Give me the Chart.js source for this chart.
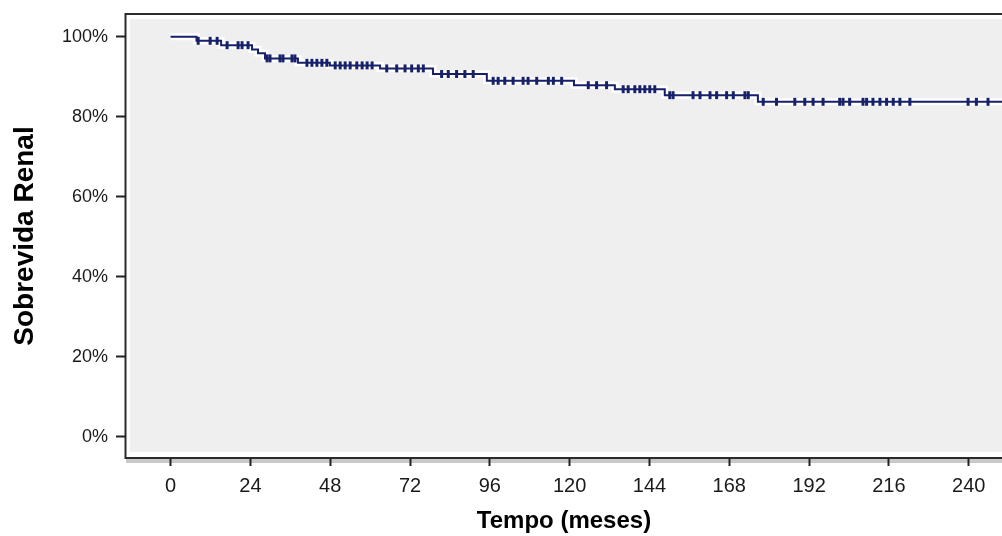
<!DOCTYPE html>
<html>
<head>
<meta charset="utf-8">
<script src="https://cdn.jsdelivr.net/npm/chart.js@4.4.1/dist/chart.umd.min.js"></script>
<style>
  html, body { margin: 0; padding: 0; background: #fff; overflow: hidden; }
  #wrap { width: 1009px; height: 536px; position: relative; }
</style>
</head>
<body>
<div id="wrap"><canvas id="chart"></canvas></div>
<script>
// Kaplan-Meier: tempos dos eventos (meses) e sobrevida (%) logo após cada um
const eventMonths = [0, 7.8, 15.2, 24.5, 26.3, 28.4, 38.3, 47.9, 63.0, 78.9, 95.1, 121.3, 133.6, 148.6, 176.6, 250];
const survival    = [100, 99.0, 97.9, 96.85, 95.9, 94.6, 93.5, 92.85, 92.1, 90.7, 89.0, 87.9, 86.9, 85.4, 83.75, 83.75];

// tempos censurados (marcas verticais)
const censorMonths = [8.3, 11.9, 14, 17, 20.3, 21.5, 23.3, 29, 29.9, 32.9, 33.8, 36.5, 37.4, 41, 42.5, 44, 45.5, 47,
  49.5, 51, 52.5, 54, 56, 57.6, 59.1, 60.6, 65, 68, 70.5, 72.5, 74.5, 76, 81.5, 83.5, 86, 88.5, 91, 97, 98.5, 100.5,
  103, 106, 107.5, 110.1, 113.6, 115.1, 117.6, 125.6, 128.1, 131.1, 136.1, 137.6, 139.6, 141.1, 142.6, 144.1, 145.6,
  150.1, 151.1, 157.1, 159.2, 162.2, 164.2, 167.2, 169.2, 172.7, 173.7, 178.2, 182.2, 187.7, 190.7, 193.2, 196.2,
  201.2, 202.2, 204.2, 208.2, 209.3, 211.2, 213.3, 215.3, 217.3, 219.3, 222.3, 239.8, 242.3, 245.8];

const xTicks = [0, 24, 48, 72, 96, 120, 144, 168, 192, 216, 240];
const yTicks = [0, 20, 40, 60, 80, 100];

const FONT = "'Liberation Sans', Arial, sans-serif";
const NAVY = '#17216a';

function survivalAt(t) {
    let s = survival[0];
    for (let i = 0; i < eventMonths.length; i++) {
        if (eventMonths[i] <= t) s = survival[i];
    }
    return s;
}

const curvePoints = eventMonths.map((m, i) => ({ x: m, y: survival[i] }));
const censorPoints = censorMonths.map(m => ({ x: m, y: survivalAt(m) }));

// fundo cinza e moldura do gráfico
const framePlugin = {
    id: 'frame',
    beforeDraw(chart) {
        const { ctx, chartArea: a } = chart;
        ctx.save();
        ctx.fillStyle = '#efefef';
        ctx.fillRect(a.left + 4, a.top + 5, a.right - a.left - 4, a.bottom - a.top - 11);
        ctx.fillStyle = '#c9c9c9';
        ctx.fillRect(a.left, a.bottom + 1, a.right - a.left, 4);
        ctx.strokeStyle = '#2b2b2b';
        ctx.lineWidth = 2;
        ctx.beginPath();
        ctx.moveTo(a.right, a.top);
        ctx.lineTo(a.left - 0.5, a.top);
        ctx.lineTo(a.left - 0.5, a.bottom);
        ctx.lineTo(a.right, a.bottom);
        ctx.stroke();
        ctx.restore();
    }
};

new Chart(document.getElementById('chart'), {
    type: 'line',
    data: {
        datasets: [
            {
                data: censorPoints,
                showLine: false,
                pointStyle: 'line',
                rotation: 90,
                pointRadius: 4,
                pointBorderWidth: 3,
                pointBorderColor: NAVY,
                order: 0
            },
            {
                data: curvePoints,
                stepped: true,
                borderColor: NAVY,
                borderWidth: 2,
                pointRadius: 0,
                order: 1
            },
            {
                data: curvePoints,
                stepped: true,
                borderColor: '#ffffff',
                borderWidth: 7,
                pointRadius: 0,
                order: 2
            },
            {
                data: censorPoints,
                showLine: false,
                pointStyle: 'circle',
                pointRadius: 4.5,
                pointBorderWidth: 0,
                pointBackgroundColor: '#ffffff',
                order: 3
            }
        ]
    },
    options: {
        responsive: true,
        maintainAspectRatio: false,
        animation: false,
        layout: { padding: { left: 8, top: 14, right: 0, bottom: 0 } },
        plugins: {
            legend: { display: false },
            tooltip: { enabled: false }
        },
        scales: {
            x: {
                type: 'linear',
                min: -13.4,
                max: 250,
                afterBuildTicks: s => { s.ticks = xTicks.map(v => ({ value: v })); },
                afterFit: s => { s.height = 78; },
                grid: {
                    drawOnChartArea: false,
                    drawTicks: true,
                    tickLength: 8,
                    tickWidth: 2,
                    tickColor: '#222'
                },
                border: { display: false },
                ticks: {
                    padding: 8,
                    color: '#1a1a1a',
                    font: { family: FONT, size: 20 }
                },
                title: {
                    display: true,
                    text: 'Tempo (meses)',
                    color: '#000',
                    font: { family: FONT, size: 24, weight: 'bold' },
                    padding: 0
                }
            },
            y: {
                type: 'linear',
                min: -5.3,
                max: 105.7,
                afterBuildTicks: s => { s.ticks = yTicks.map(v => ({ value: v })); },
                afterFit: s => { s.width = 118; },
                grid: {
                    drawOnChartArea: false,
                    drawTicks: true,
                    tickLength: 10,
                    tickWidth: 2,
                    tickColor: '#222'
                },
                border: { display: false },
                ticks: {
                    padding: 8,
                    color: '#1a1a1a',
                    font: { family: FONT, size: 18, lineHeight: 0.6 },
                    callback: v => v + '%'
                },
                title: {
                    display: true,
                    text: 'Sobrevida Renal',
                    color: '#000',
                    font: { family: FONT, size: 28, weight: 'bold' },
                    padding: 0
                }
            }
        }
    },
    plugins: [framePlugin]
});
</script>
</body>
</html>
